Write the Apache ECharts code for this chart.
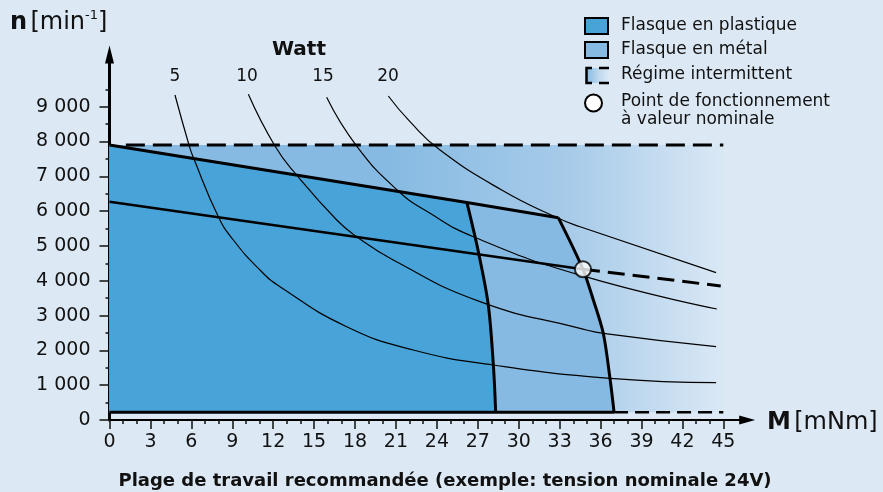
<!DOCTYPE html>
<html><head><meta charset="utf-8">
<script src="https://cdn.jsdelivr.net/npm/echarts@6/dist/echarts.min.js"></script>
<style>html,body{margin:0;padding:0;background:#dce9f5;}#c{width:883px;height:492px;}</style>
</head><body><div id="c"></div>
<script>
// ---- data ----
const torqueTicks = [0,3,6,9,12,15,18,21,24,27,30,33,36,39,42,45];
const torqueMinorTicks = [1,2,4,5,7,8,10,11,13,14,16,17,19,20,22,23,25,26,28,29,31,32,34,35,37,38,40,41,43,44];
const speedTicks = [0,1000,2000,3000,4000,5000,6000,7000,8000,9000];
const speedMinorTicks = [500,1500,2500,3500,4500,5500,6500,7500,8500,9500];
const wattLabels = ['5','10','15','20'];

const power5W  = [[4.80,9336],[5.85,7871],[6.14,7547],[7.98,5840],[9.08,5171],[11.03,4309],[12.5,3829],[17.39,2680],[22.27,2011],[28.14,1580],[36.7,1198],[44.47,1072]];
const power10W = [[10.18,9357],[12.13,7871],[13.72,7038],[16.66,5745],[18.12,5266],[20.8,4596],[27.16,3399],[34.5,2634],[36.2,2491],[44.47,2106]];
const power15W = [[15.92,9270],[18.12,7871],[21.17,6579],[23.5,5938],[26.67,5266],[34.5,4160],[44.52,3189]];
const power20W = [[20.44,9308],[22.03,8570],[24.23,7756],[28.75,6607],[32.9,5794],[34.5,5553],[44.47,4232]];

const topLine = [[0,7900],[26.2,6250],[32.9,5812]];
const plasticEdge = [[26.2,6250],[27.04,4835],[27.77,3304],[28.14,1580],[28.31,220]];
const metalEdge = [[32.9,5812],[34.71,4329],[35.47,3447],[36.2,2491],[36.69,1198],[36.99,220]];
const ratedLine = [[0,6270],[34.71,4329]];
const ratedLineIntermittent = [[34.71,4329],[44.81,3850]];
const maxSpeedLine = [[1.2,7900],[45,7900]];
const bottomLine = [[0,220],[36.99,220]];
const bottomLineIntermittent = [[36.99,220],[45,220]];
const intermittentRegion = [[0,220],[0,7900],[45,7900],[45,220]];
const ratedPoint = [[34.71,4329]];

// derived polygons
const metalRegion = [[0,220]].concat(topLine, metalEdge.slice(1));
const plasticRegion = [[0,220]].concat(topLine.slice(0,2), plasticEdge.slice(1));

// ---- styles ----
const BG = '#dce9f5', PLASTIC = '#48a4d8', METAL = '#86bae2';
const FONT = '"DejaVu Sans", sans-serif';

const chart = echarts.init(document.getElementById('c'), null, {renderer:'canvas'});

function regionSeries(points, fillFn) {
  return {
    type:'custom', coordinateSystem:'cartesian2d', silent:true, clip:false, animation:false,
    data:[[0,0]],
    renderItem: function (params, api) {
      return {type:'polygon', shape:{points: points.map(p => api.coord(p))}, style:{fill: fillFn(api)}};
    }
  };
}
function lineSeries(data, width, dash, smooth) {
  return {type:'line', data, symbol:'none', showSymbol:false, smooth: smooth || false, silent:true,
    animation:false, clip:false, lineStyle:{color:'#000', width, type: dash || 'solid', cap:'butt'}};
}

const intermittentFill = api => {
  const x0 = api.coord([0,0])[0], x1 = api.coord([45,0])[0];
  return {type:'linear', x:x0, y:0, x2:x1, y2:0, global:true,
    colorStops:[{offset:0,color:METAL},{offset:0.45,color:METAL},{offset:0.75,color:'#a7cbe9'},{offset:1,color:'#dae8f5'}]};
};

const xMax = 46.75, yMax = 10500;
const tickStyle = {color:'#111', width:1.5};

chart.setOption({
  backgroundColor: BG,
  animation:false,
  grid:{left:109.5, right:135.8, top:54.5, bottom:72, containLabel:false, outerBoundsMode:'none'},
  xAxis:[
    {type:'value', min:0, max:xMax, position:'bottom',
     axisLine:{show:true, onZero:false, lineStyle:{color:'#000', width:2}, symbol:['none','triangle'], symbolSize:[9,16]},
     axisTick:{show:true, customValues: torqueTicks, length:9, lineStyle:tickStyle},
     axisLabel:{customValues: torqueTicks, fontFamily:FONT, fontSize:19, color:'#111', margin:13},
     splitLine:{show:false}},
    {type:'value', min:0, max:xMax, position:'bottom',
     axisLine:{show:false}, axisTick:{show:true, customValues: torqueMinorTicks, length:4, lineStyle:tickStyle},
     axisLabel:{show:false}, splitLine:{show:false}}
  ],
  yAxis:[
    {type:'value', min:0, max:yMax, position:'left',
     axisLine:{show:true, onZero:false, lineStyle:{color:'#000', width:3}, symbol:['none','triangle'], symbolSize:[9,18]},
     axisTick:{show:true, customValues: speedTicks, length:10, lineStyle:tickStyle},
     axisLabel:{customValues: speedTicks, fontFamily:FONT, fontSize:19, color:'#111', margin:19,
       formatter: v => v === 0 ? '0' : (v/1000) + ' 000'},
     splitLine:{show:false}},
    {type:'value', min:0, max:yMax, position:'left',
     axisLine:{show:false}, axisTick:{show:true, customValues: speedMinorTicks, length:4, lineStyle:tickStyle},
     axisLabel:{show:false}, splitLine:{show:false}}
  ],
  series:[
    regionSeries(intermittentRegion, intermittentFill),
    regionSeries(metalRegion, () => METAL),
    regionSeries(plasticRegion, () => PLASTIC),
    lineSeries(power5W, 1.2, null, 0.5),
    lineSeries(power10W, 1.2, null, 0.5),
    lineSeries(power15W, 1.2, null, 0.5),
    lineSeries(power20W, 1.2, null, 0.5),
    lineSeries(maxSpeedLine, 3, [19,8]),
    lineSeries(bottomLineIntermittent, 2.5, [14,7]),
    lineSeries(bottomLine, 3),
    lineSeries(topLine, 3),
    lineSeries(plasticEdge, 3, null, 0.3),
    lineSeries(metalEdge, 3, null, 0.3),
    lineSeries(ratedLine, 2.5),
    lineSeries(ratedLineIntermittent, 3, [17,8]),
    {type:'scatter', data: ratedPoint, symbol:'circle', symbolSize:16, silent:true, z:5,
     itemStyle:{color:'#fff', borderColor:'#000', borderWidth:2}}
  ],
  graphic:[
    {type:'text', x:10, y:23, style:{text:'{b|n} {r|[min}{s|-1}{r|]}', verticalAlign:'middle', rich:{
      b:{fontFamily:FONT, fontWeight:'bold', fontSize:24, fill:'#111', lineHeight:28},
      r:{fontFamily:FONT, fontSize:24, fill:'#111', lineHeight:28},
      s:{fontFamily:FONT, fontSize:13, fill:'#111', verticalAlign:'top', lineHeight:15}}}},
    {type:'text', x:299, y:50, style:{text:'Watt', font:'bold 20px '+FONT, fill:'#111', align:'center', verticalAlign:'middle'}},
    {type:'text', x:175, y:77, style:{text:wattLabels[0], font:'17px '+FONT, fill:'#111', align:'center', verticalAlign:'middle'}},
    {type:'text', x:247, y:77, style:{text:wattLabels[1], font:'17px '+FONT, fill:'#111', align:'center', verticalAlign:'middle'}},
    {type:'text', x:323, y:77, style:{text:wattLabels[2], font:'17px '+FONT, fill:'#111', align:'center', verticalAlign:'middle'}},
    {type:'text', x:388, y:77, style:{text:wattLabels[3], font:'17px '+FONT, fill:'#111', align:'center', verticalAlign:'middle'}},
    {type:'text', x:139, y:190, style:{text:'{u|U}{n|N}', verticalAlign:'middle', rich:{
      u:{fontFamily:FONT, fontStyle:'italic', fontSize:17, fill:'#111', lineHeight:19},
      n:{fontFamily:FONT, fontStyle:'italic', fontSize:11, fill:'#111', verticalAlign:'bottom', lineHeight:15}}}},
    {type:'text', x:767, y:423, style:{text:'{b|M} {r|[mNm]}', verticalAlign:'middle', rich:{
      b:{fontFamily:FONT, fontWeight:'bold', fontSize:24, fill:'#111'},
      r:{fontFamily:FONT, fontSize:24, fill:'#111'}}}},
    {type:'text', x:445, y:481, style:{text:'Plage de travail recommandée (exemple: tension nominale 24V)', font:'bold 18px '+FONT, fill:'#111', align:'center', verticalAlign:'middle'}},
    // legend
    {type:'rect', shape:{x:585, y:18, width:23, height:16}, style:{fill:PLASTIC, stroke:'#000', lineWidth:2}},
    {type:'text', x:621, y:26, style:{text:'Flasque en plastique', font:'17px '+FONT, fill:'#111', verticalAlign:'middle'}},
    {type:'rect', shape:{x:585, y:42, width:23, height:16}, style:{fill:METAL, stroke:'#000', lineWidth:2}},
    {type:'text', x:621, y:50, style:{text:'Flasque en métal', font:'17px '+FONT, fill:'#111', verticalAlign:'middle'}},
    {type:'rect', shape:{x:586, y:68, width:23, height:15}, style:{fill:{type:'linear', x:0, y:0, x2:1, y2:0,
      colorStops:[{offset:0,color:METAL},{offset:0.6,color:'#c2dbf0'},{offset:1,color:BG}]}}},
    {type:'polyline', shape:{points:[[592,68],[586.5,68],[586.5,83],[592,83]]}, style:{stroke:'#000', lineWidth:2.5, fill:null}},
    {type:'line', shape:{x1:599, y1:68, x2:609, y2:68}, style:{stroke:'#000', lineWidth:2.5}},
    {type:'line', shape:{x1:599, y1:83, x2:609, y2:83}, style:{stroke:'#000', lineWidth:2.5}},
    {type:'text', x:621, y:75, style:{text:'Régime intermittent', font:'17px '+FONT, fill:'#111', verticalAlign:'middle'}},
    {type:'circle', shape:{cx:593.5, cy:103, r:8.5}, style:{fill:'#fff', stroke:'#000', lineWidth:2}},
    {type:'text', x:621, y:102, style:{text:'Point de fonctionnement', font:'17px '+FONT, fill:'#111', verticalAlign:'middle'}},
    {type:'text', x:621, y:120, style:{text:'à valeur nominale', font:'17px '+FONT, fill:'#111', verticalAlign:'middle'}}
  ]
});
</script>
</body></html>
